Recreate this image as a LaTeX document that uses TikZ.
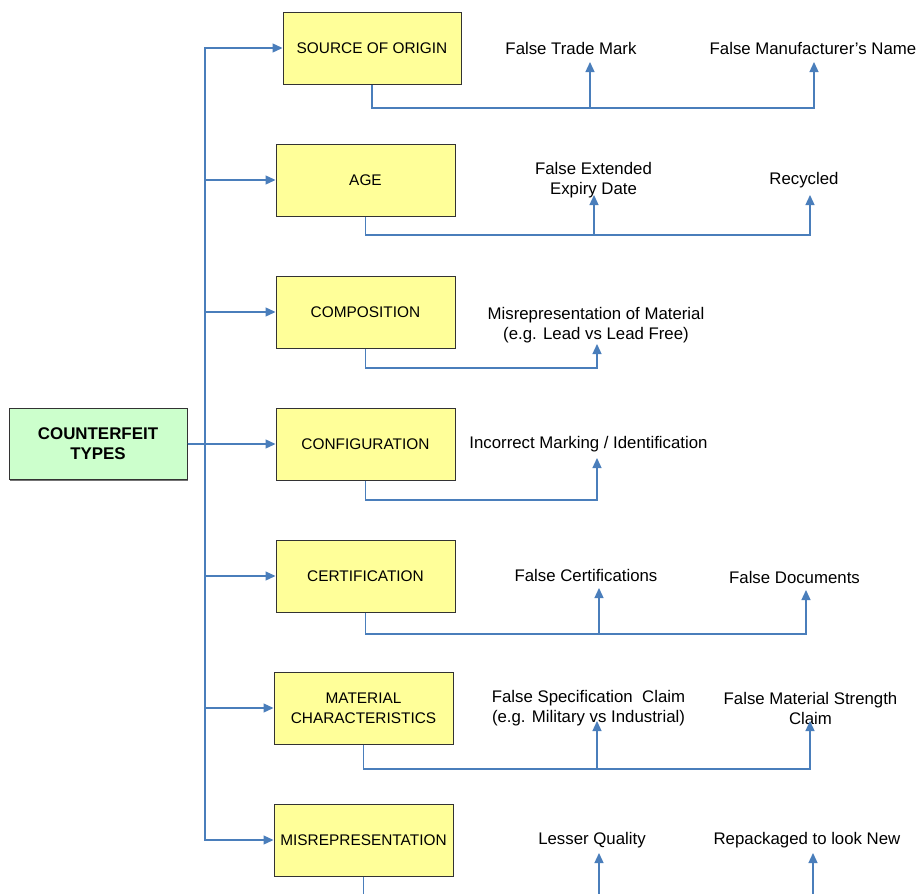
\documentclass[tikz,border=0pt]{standalone}
\usepackage{fontspec}
\setmainfont{Liberation Sans}
\usetikzlibrary{arrows.meta,shadows}
\definecolor{conn}{HTML}{4A7EBB}
\definecolor{boxy}{HTML}{FFFF99}
\definecolor{boxg}{HTML}{CCFFCC}
\definecolor{edge}{HTML}{333333}
\begin{document}
\begin{tikzpicture}[x=1pt,y=-1pt,
  typebox/.style={draw=edge,fill=boxy,line width=1pt,minimum width=178pt,minimum height=72pt,inner sep=0pt,align=center,font=\fontsize{15.4}{20}\selectfont,
    drop shadow={shadow xshift=1.3pt,shadow yshift=-1.3pt,fill=black!55,opacity=1}},
  rootbox/.style={typebox,fill=boxg,font=\fontsize{16.9}{20}\selectfont\bfseries},
  lbl/.style={inner sep=0pt,align=center,font=\fontsize{16.8}{20}\selectfont},
  link/.style={draw=conn,line width=1.3pt},
  arr/.style={link,-{Triangle[length=10pt,width=9pt]}}]
\useasboundingbox (0,0) rectangle (919,894);
\clip (0,0) rectangle (919,894);
% trunk
\coordinate (trunk) at (205,444);
% root and type boxes
\node[rootbox,minimum height=71pt] (root) at (98,444) {COUNTERFEIT\\TYPES};
\node[typebox] (t1) at (372,48) {SOURCE OF ORIGIN};
\node[typebox,minimum width=179pt] (t2) at (365.5,180) {AGE};
\node[typebox,minimum width=179pt] (t3) at (365.5,312) {COMPOSITION};
\node[typebox,minimum width=179pt] (t4) at (365.5,444) {CONFIGURATION};
\node[typebox,minimum width=179pt] (t5) at (365.5,576) {CERTIFICATION};
\node[typebox,minimum width=179pt] (t6) at (363.5,708) {MATERIAL\\CHARACTERISTICS};
\node[typebox,minimum width=179pt] (t7) at (363.5,840) {MISREPRESENTATION};
% root to types
\foreach \t in {t1,t2,t3,t5,t6,t7}{
  \draw[arr] (root.east) -- (root.east -| trunk) |- (\t.west);
}
\draw[arr] (root.east) -- (t4.west);
% labels
\node[lbl] (l1a) at (571,48) {False Trade Mark};
\node[lbl] (l1b) at (813,48) {False Manufacturer’s Name};
\node[lbl] (l2a) at (593.5,180) {False Extended\\Expiry Date};
\node[lbl] (l2b) at (804,180) {Recycled};
\node[lbl] (l3a) at (596,325) {Misrepresentation of Material\\(e.g. Lead vs Lead Free)};
\node[lbl] (l4a) at (588.5,444) {Incorrect Marking / Identification};
\node[lbl] (l5a) at (586,575) {False Certifications};
\node[lbl] (l5b) at (794.5,577) {False Documents};
\node[lbl] (l6a) at (588.5,708) {False Specification\ \ Claim\\(e.g. Military vs Industrial)};
\node[lbl] (l6b) at (810.5,708) {False Material Strength\\Claim};
\node[lbl] (l7a) at (592,840) {Lesser Quality};
\node[lbl] (l7b) at (807,840) {Repackaged to look New};
% bus lines and arrow tips
\coordinate (b1) at (0,108); \coordinate (a1) at (590,62);  \coordinate (c1) at (814,62);
\coordinate (b2) at (0,235); \coordinate (a2) at (594,195); \coordinate (c2) at (810,195);
\coordinate (b3) at (0,368); \coordinate (a3) at (597,344);
\coordinate (b4) at (0,500); \coordinate (a4) at (597,458);
\coordinate (b5) at (0,634); \coordinate (a5) at (599,588); \coordinate (c5) at (806,590);
\coordinate (b6) at (0,769); \coordinate (a6) at (597,721); \coordinate (c6) at (810,721);
\coordinate (b7) at (0,905); \coordinate (a7) at (599,853); \coordinate (c7) at (813,853);
\foreach \i in {1,2,5,6,7}{
  \draw[arr] (t\i.south) |- (b\i -| c\i) -- (c\i);
  \draw[arr] (b\i -| a\i) -- (a\i);
}
\foreach \i in {3,4}{
  \draw[arr] (t\i.south) |- (b\i -| a\i) -- (a\i);
}
\end{tikzpicture}
\end{document}
